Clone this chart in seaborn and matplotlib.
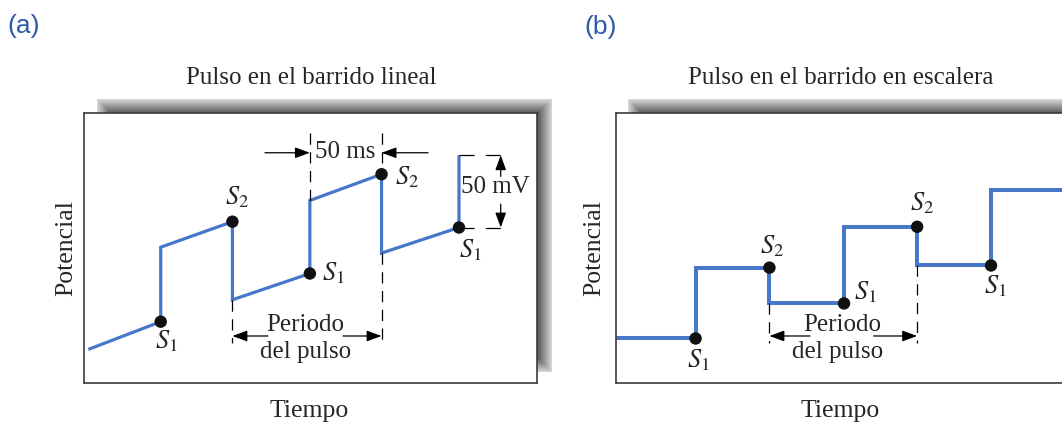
import numpy as np
import pandas as pd
import matplotlib
matplotlib.use("Agg")
import matplotlib.pyplot as plt
import seaborn as sns

# ---------------- data (time in ms, potential in mV) ----------------
lin_time = [3, 53.5, 53.5, 103.5, 103.5, 157.5, 157.5, 207.5, 207.5, 261.5, 261.5]
lin_potential = [23, 42, 93, 110.5, 57, 75, 125, 143, 89, 106.5, 156]
lin_s1_idx = [1, 5, 9]
lin_s2_idx = [3, 7]

esc_time = [0, 55.5, 55.5, 107, 107, 159, 159, 210, 210, 261.5, 261.5, 330]
esc_potential = [30.5, 30.5, 79, 79, 54.5, 54.5, 107, 107, 80.5, 80.5, 132, 132]
esc_s1_idx = [1, 5, 9]
esc_s2_idx = [3, 7]

panel_labels = ["(a)", "(b)"]
titles = ["Pulso en el barrido lineal", "Pulso en el barrido en escalera"]
xlabel = "Tiempo"
ylabel = "Potencial"
period_text = ["Periodo", "del pulso"]

BLUE = "#4677c8"
FS = 18
FS_S = 19

sns.set_theme(style="white")
plt.rcParams['font.family'] = ['Liberation Serif', 'DejaVu Serif']
plt.rcParams['mathtext.fontset'] = 'stix'

W, H = 1062, 425
fig = plt.figure(figsize=(W / 100, H / 100), dpi=100)
fig.patch.set_facecolor('white')
bg = fig.add_axes([0, 0, 1, 1], zorder=0)
bg.axis('off')


def shadow(x0, y0, x1, y1):
    w = int(x1 - x0)
    h = int(y1 - y0)
    xx = np.arange(w) + 0.5
    yy = np.arange(h) + 0.5
    dx = np.minimum(xx, w - xx)[None, :]
    dy = np.minimum(yy, h - yy)[:, None]
    d = np.minimum(dx, dy)
    a = 0.15 + 0.5 * np.clip(d / 14.0, 0, 1)
    rgba = np.zeros((h, w, 4))
    rgba[..., 3] = a
    bg.imshow(rgba, extent=(x0, x1, y1, y0), aspect='auto', interpolation='bilinear')


shadow(97, 99, 552, 372)
shadow(628, 99, 1110, 372)
bg.set_xlim(0, W)
bg.set_ylim(H, 0)

PX_MS = 1.434
PX_MV = 1.46
ax1 = fig.add_axes([84 / W, (H - 383) / H, (537 - 84) / W, 270 / H], zorder=2)
ax2 = fig.add_axes([616 / W, (H - 383) / H, (1090 - 616) / W, 270 / H], zorder=2)
ax1.set_xlim(0, (537 - 84) / PX_MS)
ax2.set_xlim(0, (1090 - 616) / PX_MS)
for ax in (ax1, ax2):
    ax.set_ylim(0, 270 / PX_MV)
    ax.set_facecolor('white')
    ax.set_xticks([])
    ax.set_yticks([])
    for sp in ax.spines.values():
        sp.set_color('#3c3c3c')
        sp.set_linewidth(1.2)
        sp.set_visible(True)

# ---- lines ----
df1 = pd.DataFrame({"t": lin_time, "v": lin_potential})
df2 = pd.DataFrame({"t": esc_time, "v": esc_potential})
sns.lineplot(data=df1, x="t", y="v", sort=False, estimator=None, ax=ax1,
             color=BLUE, linewidth=2.3)
sns.lineplot(data=df2, x="t", y="v", sort=False, estimator=None, ax=ax2,
             color=BLUE, linewidth=2.9)
for ax in (ax1, ax2):
    for ln in ax.lines:
        ln.set_solid_joinstyle('miter')
        ln.set_solid_capstyle('butt')

idx = lin_s1_idx + lin_s2_idx
sns.scatterplot(x=[lin_time[i] for i in idx], y=[lin_potential[i] for i in idx],
                ax=ax1, s=80, color='#111111', edgecolor='none', zorder=5)
idx = esc_s1_idx + esc_s2_idx
sns.scatterplot(x=[esc_time[i] for i in idx], y=[esc_potential[i] for i in idx],
                ax=ax2, s=80, color='#111111', edgecolor='none', zorder=5)
for ax in (ax1, ax2):
    ax.set_xlabel("")
    ax.set_ylabel("")

dash_kw = dict(color='black', lw=0.9, dashes=(9, 6))


def arrow(ax, tail, head):
    ax.annotate('', xy=head, xytext=tail,
                arrowprops=dict(arrowstyle='-|>,head_length=0.6,head_width=0.22',
                                mutation_scale=15, color='black', lw=0.9,
                                shrinkA=0, shrinkB=0))


# ---- panel (a) annotations ----
top_dash = 171
ax1.plot([lin_time[5]] * 2, [top_dash, lin_potential[6]], **dash_kw)
ax1.plot([lin_time[7]] * 2, [top_dash, lin_potential[7]], **dash_kw)
ax1.plot([lin_time[7]] * 2, [lin_potential[8], 27.4], **dash_kw)
ax1.plot([lin_time[3]] * 2, [lin_potential[4], 27.4], **dash_kw)
arrow(ax1, (126.2, 157.7), (lin_time[5], 157.7))
arrow(ax1, (239.9, 157.7), (lin_time[7], 157.7))
ax1.text(182, 158.5, "50 ms", ha='center', va='center', fontsize=FS)
ax1.plot([lin_time[10], 295.7], [lin_potential[10]] * 2, color='black', lw=0.9, dashes=(12, 9))
ax1.plot([lin_time[9], 295.7], [lin_potential[9]] * 2, color='black', lw=0.9, dashes=(12, 9))
arrow(ax1, (290.6, 141.5), (290.6, lin_potential[10]))
arrow(ax1, (290.6, 122.5), (290.6, lin_potential[9]))
ax1.text(286.6, 134, "50 mV", ha='center', va='center', fontsize=FS)
ax1.text(154.5, 40, period_text[0], ha='center', va='center', fontsize=FS)
ax1.text(154.5, 21.5, period_text[1], ha='center', va='center', fontsize=FS)
arrow(ax1, (128.3, 32.2), (lin_time[3], 32.2))
arrow(ax1, (180.6, 32.2), (lin_time[7], 32.2))
for (t, v, s) in [(57.7, 28.3, r'$S_1$'), (106.5, 127.6, r'$S_2$'), (173.6, 75.1, r'$S_1$'),
                  (225, 141.3, r'$S_2$'), (269.2, 91.1, r'$S_1$')]:
    ax1.text(t, v, s, ha='center', va='center', fontsize=FS_S)

# ---- panel (b) annotations ----
ax2.plot([esc_time[3]] * 2, [esc_potential[4], 27.4], **dash_kw)
ax2.plot([esc_time[7]] * 2, [esc_potential[8], 27.4], **dash_kw)
arrow(ax2, (135.3, 32.2), (esc_time[3], 32.2))
arrow(ax2, (179.7, 32.2), (esc_time[7], 32.2))
ax2.text(157.6, 40, period_text[0], ha='center', va='center', fontsize=FS)
ax2.text(154.5, 21.5, period_text[1], ha='center', va='center', fontsize=FS)
for (t, v, s) in [(57.7, 15.8, r'$S_1$'), (108.8, 93.4, r'$S_2$'), (173.8, 62.5, r'$S_1$'),
                  (213.4, 123.1, r'$S_2$'), (264.5, 66, r'$S_1$')]:
    ax2.text(t, v, s, ha='center', va='center', fontsize=FS_S)

# ---- titles, axis labels, panel labels ----
bg.text(311, 78, titles[0], ha='center', va='center', fontsize=FS)
bg.text(841, 78, titles[1], ha='center', va='center', fontsize=FS)
bg.text(309, 411, xlabel, ha='center', va='center', fontsize=FS + 0.5)
bg.text(840, 411, xlabel, ha='center', va='center', fontsize=FS + 0.5)
bg.text(66, 248, ylabel, ha='center', va='center', rotation=90, fontsize=FS + 0.5)
bg.text(594, 248, ylabel, ha='center', va='center', rotation=90, fontsize=FS + 0.5)
bg.text(7, 26, panel_labels[0], ha='left', va='center', fontsize=19,
        color='#2f5aa6', family=['Liberation Sans', 'DejaVu Sans'])
bg.text(584, 27, panel_labels[1], ha='left', va='center', fontsize=19,
        color='#2f5aa6', family=['Liberation Sans', 'DejaVu Sans'])

fig.savefig("out.png", dpi=100)
